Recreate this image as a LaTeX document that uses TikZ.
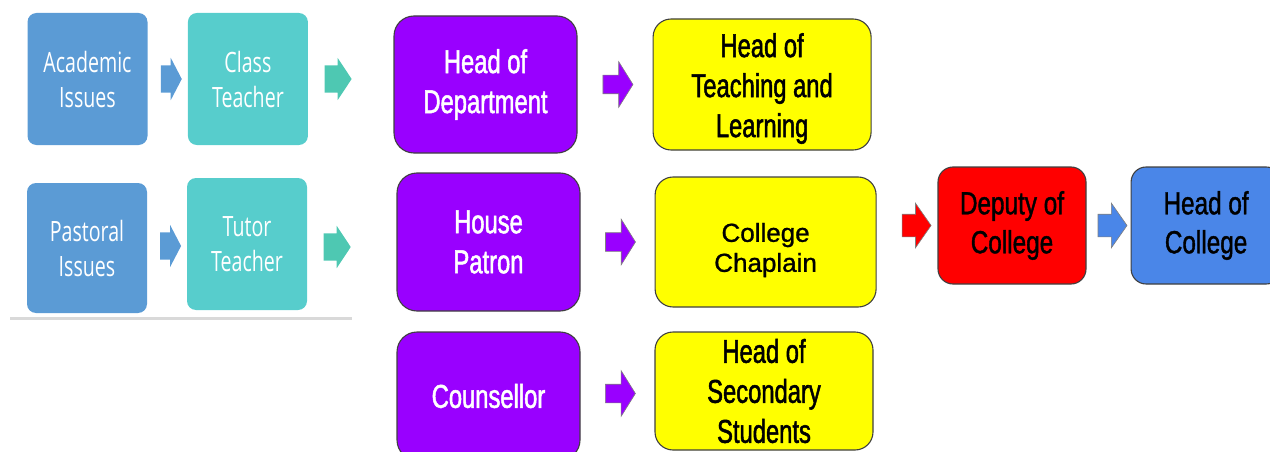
\documentclass[tikz,border=0pt]{standalone}
\usepackage{fontspec}
\usepackage{xcolor}
\usetikzlibrary{positioning,calc,shapes.arrows}
\newfontfamily\narrowsans[FakeStretch=0.72,FakeBold=1.5]{Liberation Sans}
\newfontfamily\seniorsans[FakeStretch=0.76,FakeBold=1.2]{Liberation Sans}
\newfontfamily\plainsans[FakeBold=1]{Liberation Sans}
\newfontfamily\softsans[FakeStretch=0.7]{Open Sans}
\definecolor{issueblue}{RGB}{91,155,213}
\definecolor{teacherteal}{RGB}{87,205,204}
\definecolor{passgreen}{RGB}{78,200,178}
\definecolor{staffpurple}{RGB}{153,0,255}
\definecolor{leadyellow}{RGB}{255,255,0}
\definecolor{seniorred}{RGB}{255,0,0}
\definecolor{leadblue}{RGB}{74,134,232}
\definecolor{boxedge}{RGB}{64,64,64}

\begin{document}
\begin{tikzpicture}[x=1pt, y=-1pt,
  issue/.style={rectangle, rounded corners=9pt, fill=issueblue, text=white, align=center,
    inner sep=0pt, minimum width=120pt, minimum height=132pt,
    font=\softsans\fontsize{28}{35}\selectfont},
  teacher/.style={issue, fill=teacherteal},
  staff/.style={rectangle, rounded corners=20pt, draw=boxedge, line width=1.1pt,
    fill=staffpurple, text=white, align=center, inner sep=0pt,
    minimum width=183pt, minimum height=137pt,
    font=\narrowsans\fontsize{33}{40}\selectfont},
  lead/.style={staff, rounded corners=18pt, fill=leadyellow, text=black,
    minimum width=218pt, minimum height=131pt},
  senior/.style={staff, rounded corners=15pt, fill=seniorred, text=black,
    minimum width=148pt, minimum height=117pt,
    font=\seniorsans\fontsize{32}{39}\selectfont},
  push/.style={single arrow, single arrow head indent=0pt, inner xsep=0pt,
    text height=0pt, text depth=0pt},
  pushblue/.style={push, fill=issueblue, inner ysep=13.5pt,
    single arrow head extend=7.5pt, minimum height=21pt, single arrow tip angle=125},
  pushgreen/.style={pushblue, fill=passgreen, minimum height=27pt, single arrow tip angle=113},
  pushpurple/.style={push, fill=staffpurple, draw=gray, line width=0.6pt, inner ysep=9pt,
    single arrow head extend=13.5pt, minimum height=30pt, single arrow tip angle=116},
  pushred/.style={push, fill=seniorred, draw=gray, line width=0.6pt, inner ysep=11pt,
    single arrow head extend=11pt, minimum height=29pt, single arrow tip angle=110},
  pushlead/.style={pushred, fill=leadblue}]
  \useasboundingbox (0,0) rectangle (1270,452);
  \clip (0,0) rectangle (1270,452);

  % class and tutor route
  \node[issue] (acad) at (87.5,79) {Academic\\Issues};
  \node[teacher, right=40pt of acad] (class) {Class\\Teacher};
  \node[issue, minimum height=130pt] (past) at (87,248) {Pastoral\\Issues};
  \node[teacher] (tutor) at (247,244) {Tutor\\Teacher};
  \draw[line width=3pt, gray!30] (10,318) -- (352,318);

  \node[pushblue] (p1) at ($(acad.east)!.5!(class.west)$) {};
  \node[pushgreen] (p2) at ($(class.east)+(25.5,0)$) {};
  \node[pushblue] (p3) at ($(past.east)!.5!(tutor.west)$) {};
  \node[pushgreen] (p4) at ($(tutor.east)+(25.5,3)$) {};

  % staff and their leads
  \node[staff] (hod) at (485.5,84.5) {Head of\\Department};
  \node[lead, right=75pt of hod, text height=112pt] (hotl) {Head of\\Teaching and\\Learning};
  \node[staff, minimum height=138pt] (patron) at (488.5,242) {House\\Patron};
  \node[lead, minimum width=221pt, minimum height=130pt, right=74pt of patron,
    text height=65pt, font=\plainsans\fontsize{26}{30}\selectfont] (chaplain) {College\\Chaplain};
  \node[staff, minimum height=128pt] (couns) at (488.5,396) {Counsellor};
  \node[lead, minimum height=118pt] (hoss) at (764,391) {Head of\\Secondary\\Students};

  \node[pushpurple] (q1) at ($(hod.east)!.5!(hotl.west)$) {};
  \node[pushpurple] (q2) at ($(patron.east)!.5!(chaplain.west)$) {};
  \node[pushpurple] (q3) at ($(couns.east)!.5!(hoss.west)$) {};

  % college leadership
  \node[senior] (deputy) at (1012,225.5) {Deputy of\\College};
  \node[senior, fill=leadblue, minimum width=150pt, right=44pt of deputy] (head) {Head of\\College};
  \node[pushred, left=6pt of deputy] (r1) {};
  \node[pushlead] (r2) at ($(deputy.east)!.5!(head.west)$) {};
\end{tikzpicture}
\end{document}
